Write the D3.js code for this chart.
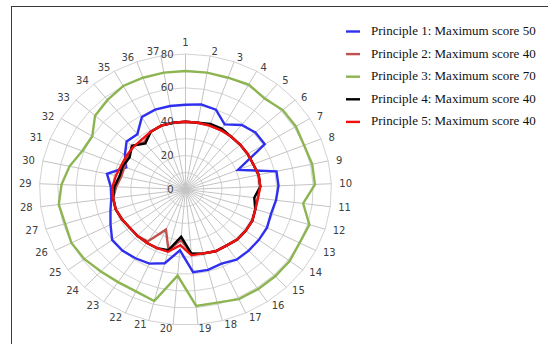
<!DOCTYPE html>
<html>
<head>
<meta charset="utf-8">
<script src="https://cdn.jsdelivr.net/npm/d3@7"></script>
<style>
  body { margin: 0; background: #fff; }
  svg { display: block; }
</style>
</head>
<body>
<svg id="chart" width="548" height="344"></svg>
<script>
'use strict';

// data
var axisLabels = d3.range(1, 38).map(String);
var tickValues = [0, 20, 40, 60, 80];
var ringValues = [10, 20, 30, 40, 50, 60, 70, 80];
var seriesNames = [
  'Principle 1: Maximum score 50',
  'Principle 2: Maximum score 40',
  'Principle 3: Maximum score 70',
  'Principle 4: Maximum score 40',
  'Principle 5: Maximum score 40'
];
var principle1 = [50, 51, 50, 44, 49, 51, 51, 31, 51, 51, 50, 49, 50, 50, 50, 50, 48, 49, 49, 36,
  45, 48, 49, 50, 50, 46, 43, 41, 41, 44, 35, 39, 43, 42, 49, 50, 50];
var principle2 = [40, 40, 40, 40, 40, 40, 40, 40, 41, 41, 40, 40, 41, 41, 41, 40, 40, 39, 38, 30,
  37, 26, 37, 38, 38, 39, 40, 40, 38, 36, 36, 37, 39, 36, 39, 40, 40];
var principle3 = [70, 70, 70, 71, 69, 71, 71, 70, 71, 71, 65, 71, 70, 71, 71, 71, 71, 69, 69, 51,
  68, 66, 66, 67, 69, 70, 69, 70, 68, 65, 61, 60, 66, 68, 70, 70, 70];
var principle4 = [40, 40, 41, 41, 40, 40, 40, 40, 41, 41, 38, 40, 41, 41, 41, 40, 40, 39, 38, 28,
  37, 38, 38, 38, 38, 39, 40, 40, 39, 37, 37, 36, 39, 35, 39, 40, 40];
var principle5 = [40, 40, 40, 40, 40, 40, 40, 40, 41, 41, 40, 40, 41, 41, 41, 40, 40, 39, 39, 33,
  38, 38, 38, 38, 38, 39, 40, 40, 40, 39, 38, 38, 38, 38, 39, 40, 40];

var seriesColors = ['#2f2ff0', '#c0504d', '#8cb552', '#000000', '#f01010'];
var seriesValues = [principle1, principle2, principle3, principle4, principle5];

var svg = d3.select('#chart');
var cx = 185.5, cy = 189.5;
var rx = 146, ry = 135.5;   // the picture is a little wider than tall

var xScale = d3.scaleLinear().domain([-80, 80]).range([cx - rx, cx + rx]);
var yScale = d3.scaleLinear().domain([-80, 80]).range([cy + ry, cy - ry]);
var angle = d3.scaleLinear().domain([0, axisLabels.length]).range([0, 2 * Math.PI]);

function px(i, v) { return xScale(v * Math.sin(angle(i))); }
function py(i, v) { return yScale(v * Math.cos(angle(i))); }

// frame
svg.append('rect')
  .attr('x', 11.5).attr('y', 6.5)
  .attr('width', 600).attr('height', 400)
  .attr('fill', 'none')
  .attr('stroke', '#3a3a3a')
  .attr('stroke-width', 1);

var grid = svg.append('g').attr('class', 'grid');

// rings
var ringLine = d3.line()
  .x(function(d) { return px(d.i, d.v); })
  .y(function(d) { return py(d.i, d.v); })
  .curve(d3.curveLinearClosed);

grid.selectAll('path.ring')
  .data(ringValues)
  .enter().append('path')
  .attr('class', 'ring')
  .attr('d', function(v) {
    return ringLine(axisLabels.map(function(l, i) { return {i: i, v: v}; }));
  })
  .attr('fill', 'none')
  .attr('stroke', '#d2d2d2')
  .attr('stroke-width', 1);

// spokes
grid.selectAll('line.spoke')
  .data(axisLabels)
  .enter().append('line')
  .attr('class', 'spoke')
  .attr('x1', cx).attr('y1', cy)
  .attr('x2', function(d, i) { return px(i, 80); })
  .attr('y2', function(d, i) { return py(i, 80); })
  .attr('stroke', '#c4c4c4')
  .attr('stroke-width', 1);

// category labels, placed next to the spoke ends
var catLabels = svg.append('g').selectAll('text')
  .data(axisLabels)
  .enter().append('text')
  .attr('text-anchor', 'middle')
  .attr('dominant-baseline', 'central')
  .attr('font-family', 'DejaVu Sans, sans-serif')
  .attr('font-size', 10)
  .attr('fill', '#404040')
  .text(function(d) { return d; });

catLabels.each(function(d, i) {
  var a = angle(i);
  var s = Math.sin(a), c = Math.cos(a);
  var hw = this.getComputedTextLength() / 2;
  var dx = (Math.abs(s) < 1e-6 ? 0 : Math.sign(s) * hw) + 8 * s;
  var dy = i === 0 ? -12 : -4.5 * c;
  d3.select(this)
    .attr('x', px(i, 80) + dx)
    .attr('y', py(i, 80) + dy);
});

// series
var seriesLine = d3.line()
  .x(function(d, i) { return px(i, d); })
  .y(function(d, i) { return py(i, d); })
  .curve(d3.curveLinearClosed);

svg.append('g').selectAll('path')
  .data(seriesValues)
  .enter().append('path')
  .attr('d', function(d) { return seriesLine(d); })
  .attr('fill', 'none')
  .attr('stroke', function(d, i) { return seriesColors[i]; })
  .attr('stroke-width', 2.4)
  .attr('stroke-linejoin', 'miter');

// value ticks on axis 1
svg.append('g').selectAll('text')
  .data(tickValues)
  .enter().append('text')
  .attr('x', cx - 12)
  .attr('y', function(d) { return yScale(d); })
  .attr('text-anchor', 'end')
  .attr('dominant-baseline', 'central')
  .attr('font-family', 'DejaVu Sans, sans-serif')
  .attr('font-size', 10)
  .attr('fill', '#404040')
  .text(function(d) { return d; });

// legend
var legend = svg.append('g').selectAll('g')
  .data(seriesNames)
  .enter().append('g')
  .attr('transform', function(d, i) { return 'translate(0,' + (30.5 + i * 22.6) + ')'; });

legend.append('line')
  .attr('x1', 346).attr('x2', 360)
  .attr('y1', 1).attr('y2', 1)
  .attr('stroke', function(d, i) { return seriesColors[i]; })
  .attr('stroke-width', 2.4);

legend.append('text')
  .attr('x', 371)
  .attr('y', 0)
  .attr('dominant-baseline', 'central')
  .attr('font-family', 'Liberation Serif, serif')
  .attr('font-size', 13)
  .attr('fill', '#111')
  .text(function(d) { return d; });
</script>
</body>
</html>
